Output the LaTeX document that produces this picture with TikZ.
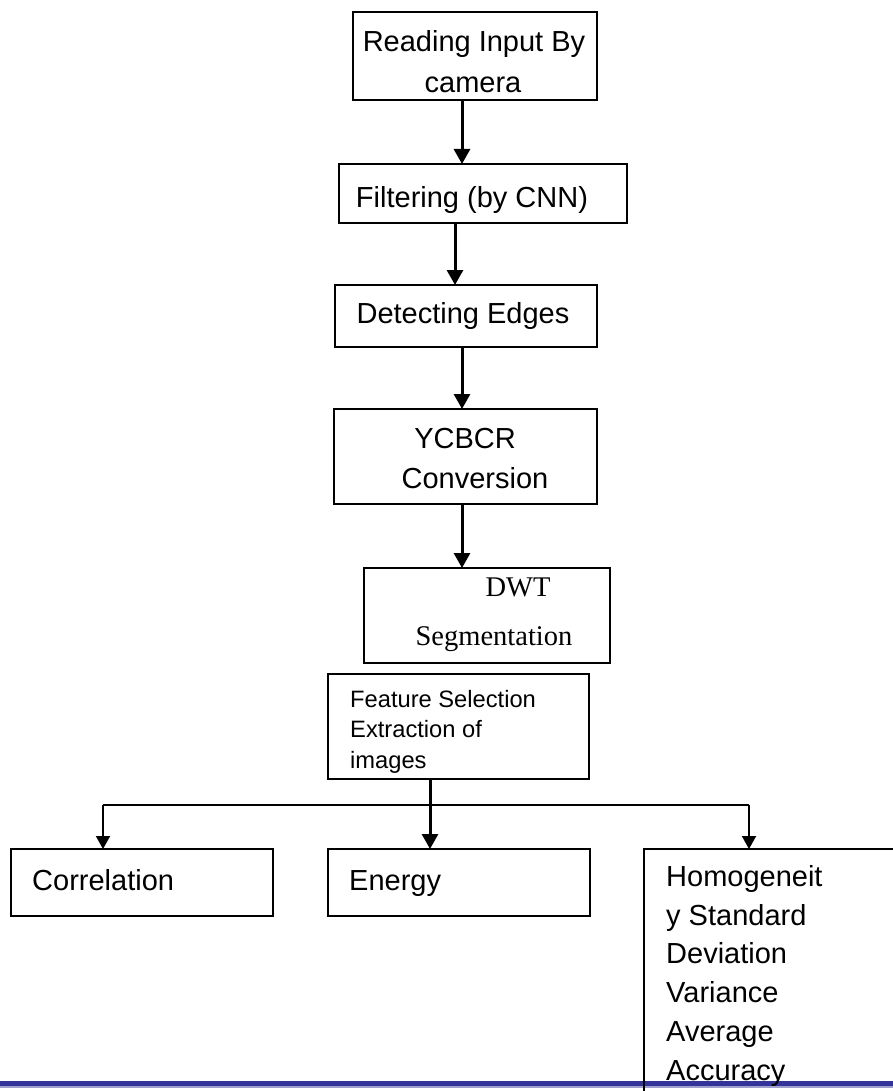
\documentclass[tikz,border=0pt]{standalone}
\usepackage{fontspec}
\setmainfont{Liberation Sans}
\newfontfamily\timesfont{Liberation Serif}
\usetikzlibrary{arrows.meta}
\definecolor{blueline}{HTML}{333399}
\definecolor{bluelight}{HTML}{A0A0D0}
\tikzset{
  box/.style={draw=black, line width=1.2pt, rectangle, inner sep=0pt, outer sep=0pt},
  lbl/.style={anchor=base, inner sep=0pt, font=\fontsize{29}{34}\selectfont},
  lbll/.style={anchor=base west, inner sep=0pt, font=\fontsize{29}{34}\selectfont},
  lblt/.style={anchor=base, inner sep=0pt, font=\timesfont\fontsize{28.5}{34}\selectfont},
  lbls/.style={anchor=base west, inner sep=0pt, font=\fontsize{23.7}{28}\selectfont},
  arr/.style={line width=3pt, -{Triangle[length=15pt,width=16pt]}},
  arrb/.style={line width=2pt, -{Triangle[length=13pt,width=14pt]}},
  branch/.style={line width=2pt}
}
\begin{document}
\begin{tikzpicture}[x=1pt,y=-1pt]
\useasboundingbox (0,0) rectangle (893,1091);
\clip (0,0) rectangle (893,1091);
% bottom rule
\draw[line width=4.7pt, blueline] (0,1083.3) -- (893,1083.3);
\draw[line width=2pt, bluelight] (0,1086.7) -- (893,1086.7);
% boxes
\node[box, minimum width=244pt, minimum height=88pt] (b1) at (475,56) {};
\node[box, minimum width=288pt, minimum height=59pt] (b2) at (483,193.5) {};
\node[box, minimum width=262pt, minimum height=62pt] (b3) at (466,316) {};
\node[box, minimum width=263pt, minimum height=95pt] (b4) at (465.5,456.5) {};
\node[box, minimum width=246pt, minimum height=95pt] (b5) at (487,615.5) {};
\node[box, minimum width=261pt, minimum height=105pt] (b6) at (458.5,726.5) {};
\node[box, minimum width=262pt, minimum height=67pt] (b7) at (142,882.5) {};
\node[box, minimum width=262pt, minimum height=67pt] (b8) at (459,882.5) {};
\node[box, minimum width=256pt, minimum height=251pt] (b9) at (772,974.5) {};
% texts
\node[lbl] (t1a) at (474,52) {Reading Input By};
\node[lbl] (t1b) at (473,93) {camera};
\node[lbl] (t2) at (472,208) {Filtering (by CNN)};
\node[lbl] (t3) at (463,323) {Detecting Edges};
\node[lbl] (t4a) at (465,448) {YCBCR};
\node[lbl] (t4b) at (475,488) {Conversion};
\node[lblt] (t5a) at (518,596) {DWT};
\node[lblt] (t5b) at (494,645) {Segmentation};
\node[lbls] (t6a) at (350,707) {Feature Selection};
\node[lbls] (t6b) at (350,737.5) {Extraction of};
\node[lbls] (t6c) at (350,768) {images};
\node[lbll] (t7) at (32,890) {Correlation};
\node[lbll] (t8) at (349,890) {Energy};
\node[lbll] (t9a) at (666,886.5) {Homogeneit};
\node[lbll] (t9b) at (666,925.2) {y Standard};
\node[lbll] (t9c) at (666,963.9) {Deviation};
\node[lbll] (t9d) at (666,1002.6) {Variance};
\node[lbll] (t9e) at (666,1041.3) {Average};
\node[lbll] (t9f) at (666,1080) {Accuracy};
% connectors
\draw[arr] ([xshift=-13pt]b1.south) -- ([xshift=-13pt]b1.south |- b2.north);
\draw[arr] ([xshift=-28pt]b2.south) -- ([xshift=-28pt]b2.south |- b3.north);
\draw[arr] ([xshift=-4pt]b3.south) -- ([xshift=-4pt]b3.south |- b4.north);
\draw[arr] ([xshift=-3.5pt]b4.south) -- ([xshift=-3.5pt]b4.south |- b5.north);
\draw[arr] ([xshift=-28.5pt]b6.south) -- ([xshift=-28.5pt]b6.south |- b8.north);
\coordinate (bl) at (103,805);
\coordinate (br) at (749,805);
\draw[branch] (bl) -- (br);
\draw[arrb] (bl) -- (bl |- b7.north);
\draw[arrb] (br) -- (br |- b9.north);
\end{tikzpicture}
\end{document}
